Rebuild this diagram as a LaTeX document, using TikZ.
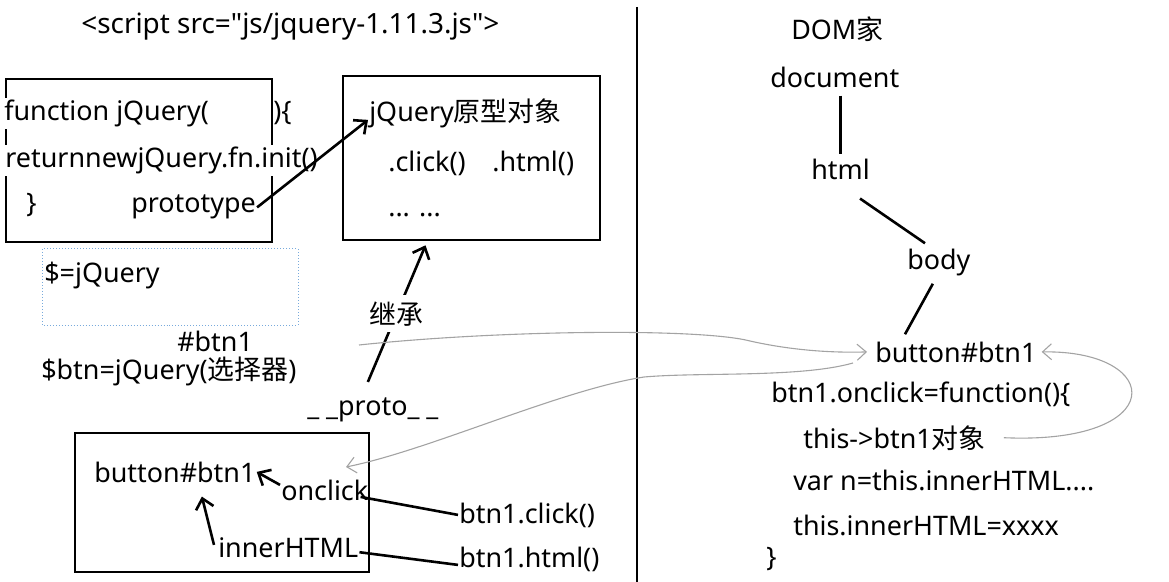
\documentclass[tikz,border=0pt]{standalone}
\usepackage{fontspec}
\setmainfont{Noto Sans}[Ligatures=TeXOff]
\newfontfamily\cjk{Noto Sans CJK SC}
\usetikzlibrary{arrows.meta}
\definecolor{selblue}{RGB}{120,170,220}

\begin{document}
\begin{tikzpicture}[x=1bp, y=-1bp, line width=2.6bp,
  txt/.style={anchor=base west, inner sep=0pt, font=\fontsize{27}{31}\selectfont},
  code/.style={txt, fill=white, inner ysep=2bp},
  box/.style={draw, rectangle, line width=2.6bp},
  link/.style={-{Straight Barb[length=10bp,width=18bp]}},
  hand/.style={draw=black!36, line width=1.1bp, -{Straight Barb[length=9bp,width=16bp]}}]
  \useasboundingbox (0,0) rectangle (1169,582);
  % Boxes
  \node[box, minimum width=266bp, minimum height=163bp] (fnbox) at (139,160.5) {};
  \node[box, minimum width=257bp, minimum height=164bp] (protobox) at (471.5,158) {};
  \node[box, minimum width=294bp, minimum height=139bp] (btnbox) at (222,502.5) {};
  \draw[dotted, line width=1bp, selblue] (42,249) rectangle (298,325);
  \draw (637,7) -- (637,582);
  % Nodes, left
  \node[txt, font=\fontsize{28}{32}\selectfont] (script) at (80,34) {<script src="js/jquery-1.11.3.js">};
  \node[code] (fnhead) at (3,121) {function jQuery(};
  \node[code] (fnclose) at (272,121) {)\{};
  \node[code] (fnret) at (4,168) {returnnewjQuery.fn.init()};
  \node[txt] (fnend) at (25,213) {\}};
  \node[txt] (prototype) at (130,213) {prototype};
  \node[txt] (protoname) at (368,122) {jQuery{\cjk 原型对象}};
  \node[txt] (click) at (387,172) {.click()};
  \node[txt] (html) at (491,172) {.html()};
  \node[txt] (more) at (387,217) {... ...};
  \node[txt] (alias) at (43,283) {\$=jQuery};
  \node[txt] (sel) at (176,351) {\#btn1};
  \node[txt] (btnvar) at (40,379) {\$btn=jQuery({\cjk 选择器})};
  \node[txt] (proto) at (306,415) {\_ \_proto\_ \_};
  \node[txt] (btnname) at (93,482) {button\#btn1};
  \node[txt] (onclick) at (280,500) {onclick};
  \node[txt] (inner) at (217,557) {innerHTML};
  \node[txt] (clickm) at (458,523) {btn1.click()};
  \node[txt] (htmlm) at (458,567) {btn1.html()};
  % Nodes, right
  \node[txt] (domtitle) at (790,40) {DOM{\cjk 家}};
  \node[txt] (document) at (769,88) {document};
  \node[txt] (htmlnode) at (810,180) {html};
  \node[txt] (body) at (906,270) {body};
  \node[txt] (rbtn) at (874,362) {button\#btn1};
  \node[txt] (handler) at (770,402) {btn1.onclick=function()\{};
  \node[txt] (this) at (802,448) {this->btn1{\cjk 对象}};
  \node[txt] (readinner) at (792,490) {var n=this.innerHTML....};
  \node[txt] (setinner) at (792,535) {this.innerHTML=xxxx};
  \node[txt] (handlerend) at (765,566) {\}};
  \coordinate (inhstart) at (359,345);
  \coordinate (backstart) at (853,363);
  \coordinate (backend) at (346,467);
  % Connections
  \draw[link] (prototype.east) -- ([yshift=-6bp]protoname.west);
  \draw[link] ([xshift=-5bp,yshift=14bp]proto.north) -- ([xshift=-46bp,yshift=-4bp]protobox.south)
    node[midway, fill=white, inner sep=6bp, font=\fontsize{27}{31}\selectfont] (inherit) {\cjk 继承};
  \draw[link] ([yshift=5bp]onclick.west) -- (btnname.east);
  \draw[link] ([xshift=-3bp,yshift=-9bp]inner.north west) -- ([xshift=27bp,yshift=-13bp]btnname.south);
  \draw (clickm.west) -- ([xshift=-9bp,yshift=-7bp]onclick.east);
  \draw ([yshift=-6bp]htmlm.west) -- ([yshift=-5bp]inner.east);
  \draw[shorten <=6bp, shorten >=4bp] (htmlnode.north |- document.south) -- (htmlnode.north);
  \draw ([xshift=-11bp,yshift=-17bp]htmlnode.south east) -- ([xshift=19bp,yshift=5bp]body.north west);
  \draw ([xshift=-6bp,yshift=-6bp]body.south) -- ([xshift=31bp,yshift=6bp]rbtn.north west);
  \draw[hand] (inhstart) .. controls (500,330) and (700,328) .. (750,341) .. controls (790,350) and (830,353) .. ([xshift=-7bp]rbtn.west);
  \draw[hand] (backstart) .. controls (800,378) and (700,372) .. (644,377) .. controls (560,390) and (430,450) .. (backend);
  \draw[hand] ([xshift=17bp]this.east) .. controls (1170,445) and (1165,350) .. ([xshift=4bp]rbtn.east);
\end{tikzpicture}
\end{document}
